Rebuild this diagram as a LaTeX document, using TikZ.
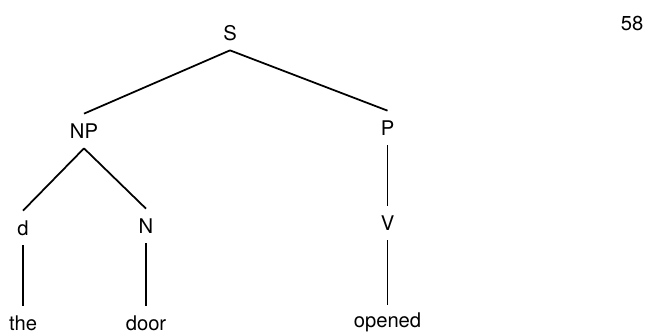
\documentclass[tikz,border=0pt]{standalone}
\usepackage{fontspec}
\setmainfont{TeX Gyre Heros}
\usepackage{tikz}
\usetikzlibrary{positioning}
\tikzset{
  mylabel/.style={
    shape=rectangle,
    inner sep=0pt,
    minimum height=0.68cm,
    align=center,
    font=\fontsize{11.5}{13}\selectfont
  },
  myedge/.style={
    draw=black,
    line width=1pt,
  }
}

\begin{document}
\begin{tikzpicture}
    \useasboundingbox (0, 0) rectangle (13, -6.66);

    \node [mylabel] (S) at (4.60, -0.66) {S};
    \node [mylabel] (NP) at (1.68, -2.62) {NP};
    \node [mylabel] (P) at (7.75, -2.56) {P};
    \draw [myedge] (S.south) -- (NP.north);
    \draw [myedge] (S.south) -- (P.north);

    \node [mylabel] (d) at (0.46, -4.56) {d};
    \node [mylabel] (N) at (2.92, -4.52) {N};
    \draw [myedge] (NP.south) -- (d.north);
    \draw [myedge] (NP.south) -- (N.north);

    \node [mylabel] (V) at (7.75, -4.46) {V};
    \draw [myedge] (P.south) -- (V.north);

    \node [mylabel] (the) at (0.46, -6.46) {the};
    \node [mylabel] (door) at (2.92, -6.46) {door};
    \node [mylabel] (opened) at (7.75, -6.44) {opened};
    \draw [myedge] (d.south) -- (the.north);
    \draw [myedge] (N.south) -- (door.north);
    \draw [myedge] (V.south) -- (opened.north);

    \node [mylabel] (page) at (12.64, -0.46) {58};
  \end{tikzpicture}
\end{document}
